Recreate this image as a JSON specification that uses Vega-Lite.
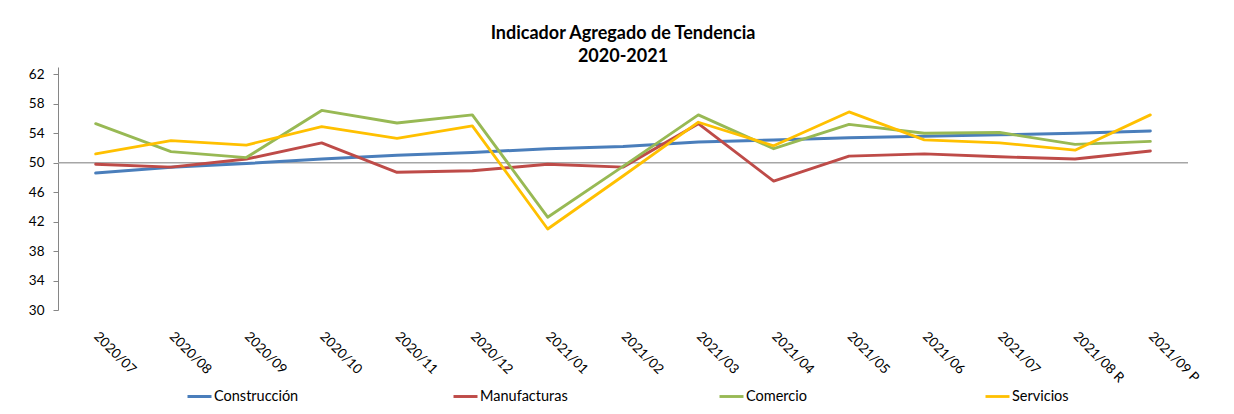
{
  "$schema": "https://vega.github.io/schema/vega-lite/v6.json",
  "autosize": {"type": "none"},
  "padding": {"left": 58, "top": 67, "right": 46, "bottom": 104},
  "width": 1130,
  "height": 243,
  "background": "white",
  "config": {
    "font": "Lato",
    "view": {"stroke": null},
    "axis": {"labelColor": "#000000", "labelFont": "Lato"},
    "axisY": {"labelOverlap": false},
    "legend": {"labelFont": "Lato"}
  },
  "title": {
    "text": ["Indicador Agregado de Tendencia", "2020-2021"],
    "fontSize": 18,
    "fontWeight": "bold",
    "lineHeight": 23,
    "anchor": "middle",
    "offset": 1,
    "color": "#000000"
  },
  "layer": [
    {
      "data": {"values": [{"referencia": 50}]},
      "mark": {"type": "rule", "color": "#a6a6a6", "strokeWidth": 1.3},
      "encoding": {
        "y": {
          "field": "referencia",
          "type": "quantitative",
          "scale": {"domain": [30, 63], "nice": false, "zero": false},
          "title": null,
          "axis": {
            "values": [30, 34, 38, 42, 46, 50, 54, 58, 62],
            "labelOverlap": false,
            "grid": false,
            "domainColor": "#868686",
            "tickColor": "#868686",
            "tickSize": 5,
            "labelPadding": 9,
            "labelFontSize": 13.5
          }
        }
      }
    },
    {
      "data": {
        "values": [
          {"mes": "2020/07", "serie": "Construcción", "valor": 48.6},
          {"mes": "2020/08", "serie": "Construcción", "valor": 49.4},
          {"mes": "2020/09", "serie": "Construcción", "valor": 49.9},
          {"mes": "2020/10", "serie": "Construcción", "valor": 50.5},
          {"mes": "2020/11", "serie": "Construcción", "valor": 51.0},
          {"mes": "2020/12", "serie": "Construcción", "valor": 51.4},
          {"mes": "2021/01", "serie": "Construcción", "valor": 51.9},
          {"mes": "2021/02", "serie": "Construcción", "valor": 52.2},
          {"mes": "2021/03", "serie": "Construcción", "valor": 52.8},
          {"mes": "2021/04", "serie": "Construcción", "valor": 53.1},
          {"mes": "2021/05", "serie": "Construcción", "valor": 53.4},
          {"mes": "2021/06", "serie": "Construcción", "valor": 53.6},
          {"mes": "2021/07", "serie": "Construcción", "valor": 53.8},
          {"mes": "2021/08 R", "serie": "Construcción", "valor": 54.0},
          {"mes": "2021/09 P", "serie": "Construcción", "valor": 54.3},
          {"mes": "2020/07", "serie": "Manufacturas", "valor": 49.8},
          {"mes": "2020/08", "serie": "Manufacturas", "valor": 49.4},
          {"mes": "2020/09", "serie": "Manufacturas", "valor": 50.5},
          {"mes": "2020/10", "serie": "Manufacturas", "valor": 52.7},
          {"mes": "2020/11", "serie": "Manufacturas", "valor": 48.7},
          {"mes": "2020/12", "serie": "Manufacturas", "valor": 48.9},
          {"mes": "2021/01", "serie": "Manufacturas", "valor": 49.8},
          {"mes": "2021/02", "serie": "Manufacturas", "valor": 49.4},
          {"mes": "2021/03", "serie": "Manufacturas", "valor": 55.3},
          {"mes": "2021/04", "serie": "Manufacturas", "valor": 47.5},
          {"mes": "2021/05", "serie": "Manufacturas", "valor": 50.9},
          {"mes": "2021/06", "serie": "Manufacturas", "valor": 51.2},
          {"mes": "2021/07", "serie": "Manufacturas", "valor": 50.8},
          {"mes": "2021/08 R", "serie": "Manufacturas", "valor": 50.5},
          {"mes": "2021/09 P", "serie": "Manufacturas", "valor": 51.6},
          {"mes": "2020/07", "serie": "Comercio", "valor": 55.3},
          {"mes": "2020/08", "serie": "Comercio", "valor": 51.5},
          {"mes": "2020/09", "serie": "Comercio", "valor": 50.7},
          {"mes": "2020/10", "serie": "Comercio", "valor": 57.1},
          {"mes": "2020/11", "serie": "Comercio", "valor": 55.4},
          {"mes": "2020/12", "serie": "Comercio", "valor": 56.5},
          {"mes": "2021/01", "serie": "Comercio", "valor": 42.6},
          {"mes": "2021/02", "serie": "Comercio", "valor": 49.5},
          {"mes": "2021/03", "serie": "Comercio", "valor": 56.5},
          {"mes": "2021/04", "serie": "Comercio", "valor": 51.9},
          {"mes": "2021/05", "serie": "Comercio", "valor": 55.2},
          {"mes": "2021/06", "serie": "Comercio", "valor": 54.0},
          {"mes": "2021/07", "serie": "Comercio", "valor": 54.1},
          {"mes": "2021/08 R", "serie": "Comercio", "valor": 52.5},
          {"mes": "2021/09 P", "serie": "Comercio", "valor": 52.9},
          {"mes": "2020/07", "serie": "Servicios", "valor": 51.2},
          {"mes": "2020/08", "serie": "Servicios", "valor": 53.0},
          {"mes": "2020/09", "serie": "Servicios", "valor": 52.4},
          {"mes": "2020/10", "serie": "Servicios", "valor": 54.9},
          {"mes": "2020/11", "serie": "Servicios", "valor": 53.3},
          {"mes": "2020/12", "serie": "Servicios", "valor": 55.0},
          {"mes": "2021/01", "serie": "Servicios", "valor": 41.0},
          {"mes": "2021/02", "serie": "Servicios", "valor": 48.2},
          {"mes": "2021/03", "serie": "Servicios", "valor": 55.5},
          {"mes": "2021/04", "serie": "Servicios", "valor": 52.3},
          {"mes": "2021/05", "serie": "Servicios", "valor": 56.9},
          {"mes": "2021/06", "serie": "Servicios", "valor": 53.1},
          {"mes": "2021/07", "serie": "Servicios", "valor": 52.7},
          {"mes": "2021/08 R", "serie": "Servicios", "valor": 51.7},
          {"mes": "2021/09 P", "serie": "Servicios", "valor": 56.5}
        ]
      },
      "mark": {"type": "line", "strokeCap": "round", "strokeJoin": "round"},
      "encoding": {
        "x": {
          "field": "mes",
          "type": "ordinal",
          "sort": null,
          "title": null,
          "axis": {
            "domain": false,
            "ticks": false,
            "labelAngle": 45,
            "labelAlign": "left",
            "labelBaseline": "middle",
            "labelPadding": 24,
            "labelFontSize": 13.5
          }
        },
        "y": {
          "field": "valor",
          "type": "quantitative",
          "scale": {"domain": [30, 63], "nice": false, "zero": false},
          "title": null,
          "axis": {
            "values": [30, 34, 38, 42, 46, 50, 54, 58, 62],
            "labelOverlap": false,
            "grid": false,
            "domainColor": "#868686",
            "tickColor": "#868686",
            "tickSize": 5,
            "labelPadding": 9,
            "labelFontSize": 13.5
          }
        },
        "color": {
          "field": "serie",
          "type": "nominal",
          "scale": {
            "domain": ["Construcción", "Manufacturas", "Comercio", "Servicios"],
            "range": ["#4A7EBB", "#BE4B48", "#98B954", "#FFC000"]
          },
          "legend": {
            "title": null,
            "orient": "none",
            "legendX": 128,
            "legendY": 316,
            "direction": "horizontal",
            "columns": 4,
            "gridAlign": "all",
            "columnPadding": 145,
            "symbolType": "stroke",
            "symbolSize": 576,
            "symbolStrokeWidth": 3,
            "labelFontSize": 14.5,
            "labelColor": "#000000",
            "labelOffset": 1
          }
        },
        "strokeWidth": {
          "field": "serie",
          "type": "nominal",
          "scale": {
            "domain": ["Construcción", "Manufacturas", "Comercio", "Servicios"],
            "range": [3, 2.8, 3, 2.3]
          },
          "legend": null
        }
      }
    }
  ]
}
